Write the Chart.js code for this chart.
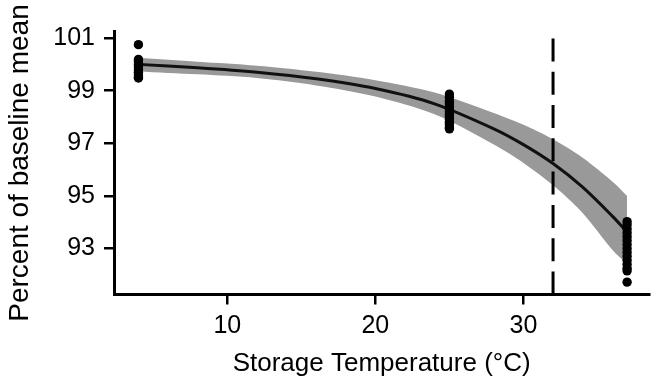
<!DOCTYPE html>
<html>
<head>
<meta charset="utf-8">
<script src="https://cdn.jsdelivr.net/npm/chart.js@4.4.1/dist/chart.umd.min.js"></script>
<style>
html,body{margin:0;padding:0;background:#fff;}
canvas{display:block;}
</style>
</head>
<body>
<canvas id="c" width="654" height="379"></canvas>
<script>
// Observed data (percent of baseline mean) by storage temperature
const groupTemps = [4, 25, 37];
const obs4  = [100.75, 100.19, 100.1, 100.0, 99.9, 99.8, 99.7, 99.6, 99.5, 99.48];
const obs25 = [98.87, 98.75, 98.6, 98.5, 98.4, 98.3, 98.2, 98.1, 98.0, 97.9, 97.8, 97.7, 97.6, 97.55];
const obs37 = [94.02, 93.9, 93.75, 93.6, 93.45, 93.3, 93.15, 93.0, 92.85, 92.7, 92.55, 92.4, 92.25, 92.15, 91.72];

// Fitted curve and confidence band
const fitX     = [4, 8, 12, 16, 20, 24, 28, 30, 32, 34, 36, 37];
const fitMean  = [100.0, 99.87, 99.7, 99.45, 99.08, 98.5, 97.55, 96.95, 96.23, 95.33, 94.23, 93.63];
const fitUpper = [100.25, 100.1, 99.95, 99.72, 99.4, 98.93, 98.15, 97.7, 97.15, 96.45, 95.55, 95.0];
const fitLower = [99.73, 99.62, 99.48, 99.2, 98.78, 98.1, 96.95, 96.25, 95.4, 94.35, 92.95, 92.4];

// Reference temperature (dashed line)
const refTemp = [32];

// Axes
const xTicks = [10, 20, 30];
const yTicks = [93, 95, 97, 99, 101];
const xMin = 2.35, xMax = 38.5;
const yMin = 91.25, yMax = 101.25;

const obsGroups = [obs4, obs25, obs37];
const scatterPts = [];
obsGroups.forEach((arr, i) => arr.forEach(v => scatterPts.push({x: groupTemps[i], y: v})));
const toPts = (xs, ys) => xs.map((x, i) => ({x: x, y: ys[i]}));

const FONT = "'Liberation Sans', Arial, sans-serif";

new Chart(document.getElementById('c'), {
  type: 'scatter',
  data: {
    datasets: [
      {
        type: 'scatter',
        data: scatterPts,
        backgroundColor: '#000',
        borderColor: '#000',
        pointRadius: 4.7,
        borderWidth: 0,
        order: 0
      },
      {
        type: 'line',
        data: refTemp.flatMap(t => [{x: t, y: yMin}, {x: t, y: yMax}]),
        borderColor: '#000',
        borderWidth: 3,
        borderDash: [23, 10.3],
        pointRadius: 0,
        fill: false,
        order: 1
      },
      {
        type: 'line',
        data: toPts(fitX, fitMean),
        borderColor: '#111',
        borderWidth: 3,
        pointRadius: 0,
        tension: 0.3,
        fill: false,
        order: 2
      },
      {
        type: 'line',
        data: toPts(fitX, fitUpper),
        borderWidth: 0,
        borderColor: 'rgba(0,0,0,0)',
        backgroundColor: '#999999',
        pointRadius: 0,
        tension: 0.3,
        fill: 4,
        order: 3
      },
      {
        type: 'line',
        data: toPts(fitX, fitLower),
        borderWidth: 0,
        borderColor: 'rgba(0,0,0,0)',
        pointRadius: 0,
        tension: 0.3,
        fill: false,
        order: 4
      }
    ]
  },
  options: {
    responsive: false,
    animation: false,
    devicePixelRatio: 1,
    layout: {padding: {top: 31.5, right: 0, bottom: 0, left: 0}},
    plugins: {legend: {display: false}, tooltip: {enabled: false}},
    scales: {
      x: {
        type: 'linear',
        min: xMin, max: xMax,
        afterFit: s => { s.height = 379 - 294.5; },
        afterBuildTicks: s => { s.ticks = xTicks.map(v => ({value: v})); },
        grid: {display: true, drawOnChartArea: false, drawTicks: true, tickLength: 10, color: '#000', lineWidth: 2.5},
        border: {display: true, color: '#000', width: 3},
        ticks: {color: '#000', font: {family: FONT, size: 25}, padding: 7, maxRotation: 0, autoSkip: false},
        title: {display: true, text: 'Storage Temperature (°C)', color: '#000', font: {family: FONT, size: 26, lineHeight: 1}, padding: {top: 0, bottom: 2}}
      },
      y: {
        type: 'linear',
        min: yMin, max: yMax,
        afterFit: s => { s.width = 114; },
        afterBuildTicks: s => { s.ticks = yTicks.map(v => ({value: v})); },
        grid: {display: true, drawOnChartArea: false, drawTicks: true, tickLength: 10, color: '#000', lineWidth: 2.5},
        border: {display: true, color: '#000', width: 3},
        ticks: {color: '#000', font: {family: FONT, size: 25}, padding: 9, autoSkip: false},
        title: {display: true, text: 'Percent of baseline mean', color: '#000', font: {family: FONT, size: 28}, padding: {top: 3, bottom: 0}}
      }
    }
  }
});
</script>
</body>
</html>
